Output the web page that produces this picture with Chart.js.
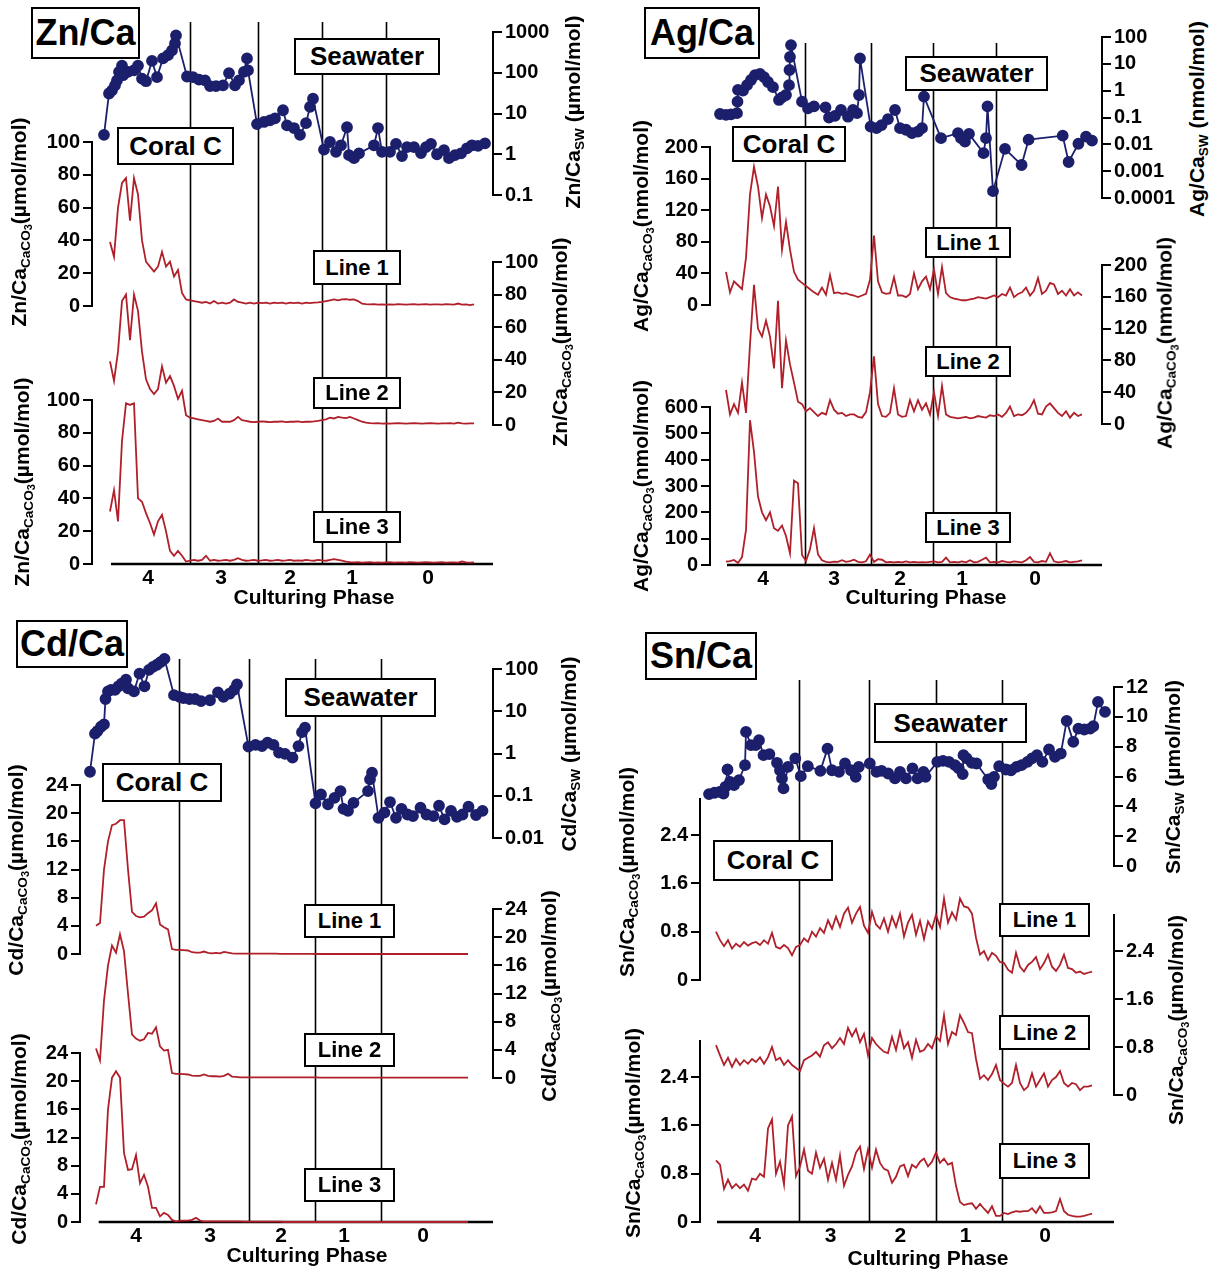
<!DOCTYPE html>
<html>
<head>
<meta charset="utf-8">
<script src="https://cdn.jsdelivr.net/npm/chart.js@4.4.1/dist/chart.umd.min.js"></script>
<style>
  body { margin: 0; background: #fff; width: 1213px; height: 1274px; position: relative; overflow: hidden;
         font-family: 'Liberation Sans', Arial, sans-serif; font-weight: bold; color: #000; }
  canvas { position: absolute; }
  .box { position: absolute; border: 2px solid #000; background: #fff; box-sizing: border-box;
         display: flex; align-items: center; justify-content: center; white-space: nowrap; }
  .vt { position: absolute; white-space: nowrap; font-size: 21px; line-height: 1;
        transform: translate(-50%, -50%) rotate(-90deg); }
  .vt sub { font-size: 0.65em; vertical-align: -0.3em; }
  .vt sub sub { font-size: 0.8em; vertical-align: -0.25em; }
  .ht { position: absolute; white-space: nowrap; font-size: 21px; transform: translate(-50%, -50%); }
</style>
</head>
<body>
<script>
// ---- shared ----
const phaseLabels = ['4', '3', '2', '1', '0'];
const lineStep = 4;   // spacing of the coral laser-line samples (distance units)

// ---- Zn/Ca ----
const znSwX = [7,12,15,18,20,22,25,26,31,37,41,45,49,55,60,66,71,75,78,79,90,96,102,108,113,119,126,132,138,142,147,150,151,160,167,173,178,186,190,197,203,209,213,216,227,233,239,244,250,252,257,262,277,281,285,293,299,305,310,317,324,329,334,340,347,352,358,364,370,375,381,388];
const znSw = [3.0,31,37,49,65,105,150,87,105,115,150,72,62,195,78,225,270,355,525,830,81,78,68,65,47,47,49,98,49,65,105,225,115,5.5,6.2,6.8,7.6,12,5.1,4.4,3.0,5.8,14.5,23,1.3,2.0,1.15,1.66,4.6,0.95,0.8,1.05,1.66,4.4,1.15,1.15,1.8,0.9,1.5,1.5,1.07,1.5,1.8,1.0,1.26,0.8,0.95,1.05,1.4,1.66,1.6,1.85];
const znLine1 = [39,30,60,75,78,52,78,68,40,27,24,21,24,33,24,27,18,22,8,4,3.5,3,2.5,2,2.5,1.5,3,1.5,2,1.5,2,4,2.5,2,1.5,2,1.5,2,1.8,2,1.5,2,1.8,2,1.5,2,1.8,2,1.5,2,1.8,2,2.2,2.5,3,3.5,4,3.5,4,4.2,3.8,4,3,1.5,1.2,1,1.2,0.8,1,0.8,1,0.8,1.2,1,0.8,1,1.2,0.8,1,1.2,0.8,1,1,0.8,1.2,1,0.8,1.5,0.8,1,0.5,1];
const znLine2 = [39,27,45,76,80,52,80,70,45,28,22,19,22,36,26,30,24,16,21,6,4.5,4,3.5,3,2.5,2,2.5,4,2,2,2,3,5,3,2.5,2,1.8,2,2.2,2,1.8,2,2,2.2,1.8,2,2,2.2,1.8,2,2,2.2,2.5,3,3.5,4.5,4,5,4.5,4.2,5,4,3,2,1.5,1.2,1,1.2,0.8,1,0.8,1,1.2,1,0.8,1,1.2,1,0.8,1,1.2,1,0.8,1,1,1.2,0.8,1.5,1,0.8,1,1];
const znLine3 = [32,45,26,75,98,97,98,40,38,31,25,18,26,30,20,8,5,8,5,1.5,2,2.5,2,2.5,5,2,2.5,2,2.2,2.5,2,2.5,3.5,2.5,2,2.2,2.5,2,2.2,2.5,2,2.2,2.5,2,2.2,2.5,2,2.2,2,2.5,2.2,2,2.5,2.2,2,2.5,3,2.5,2,1.5,1.2,1,1.2,0.8,1,1.2,0.8,1,0.8,1,1.2,0.8,1,1,0.8,1.2,1,0.8,1,1.2,1,0.8,1,1.2,0.8,1,1,0.8,1.5,1,0.8,1];
const znLineStart = 13;
const znPhaseEdges = [93, 161, 225, 289];
const znPhaseTicks = [51, 124, 193, 255, 331];
const znSwTicks = [0.1, 1, 10, 100, 1000];
const znCoralTicks = [0, 20, 40, 60, 80, 100];

// ---- Ag/Ca ----
const agSwX = [10,16,21,27,27.5,28,33,37,41,45,50,54,58,63,69,72,76,79,79.5,80,81,92,98,104,115.5,119,125,131,138,143,147,149,150,160.6,166.5,171.6,178,185,190,196,202,208,212,214,231,248,251,255,259,273.5,276,277.5,283,295,311.6,318.6,352.7,358.6,368.4,376,382];
const agSw = [0.135,0.126,0.13,0.145,0.39,1.07,1.0,1.6,2.5,3.8,4.2,3.2,2.1,1.35,0.45,0.56,0.69,1.6,5.9,18,50,0.39,0.22,0.26,0.24,0.10,0.115,0.19,0.107,0.19,0.145,0.69,16,0.046,0.04,0.052,0.087,0.19,0.04,0.035,0.026,0.03,0.04,0.6,0.017,0.026,0.017,0.0126,0.0245,0.0047,0.017,0.26,0.00018,0.0068,0.0017,0.015,0.021,0.0022,0.0105,0.0195,0.0138];
const agLine1 = [42,16,30,25,20,60,140,175,150,110,140,125,100,150,70,105,70,42,32,28,24,20,16,13,22,13,38,15,16,14,15,13,12,10,12,14,32,88,30,16,14,15,35,12,12,10,14,40,20,30,36,20,45,14,48,15,10,8,7,6,6,7,8,10,9,8,10,12,10,14,12,22,10,14,16,22,12,18,34,14,18,28,26,14,18,12,20,12,16,12];
const agLine2 = [43,12,25,14,52,14,100,175,120,110,130,110,70,155,45,105,75,52,28,25,16,20,15,10,14,12,30,18,13,14,10,12,12,9,8,15,40,85,25,10,9,14,45,12,9,10,30,16,30,18,26,12,40,10,48,12,9,8,7,8,9,7,8,10,9,8,11,10,12,9,14,22,10,12,11,14,20,30,13,12,22,26,20,14,10,16,8,14,10,12];
const agLine3 = [13,15,19,8,30,133,550,430,260,200,170,200,140,130,150,110,44,320,310,38,15,60,140,40,18,12,10,13,12,18,12,15,20,12,10,14,40,12,22,20,10,12,10,12,10,14,10,12,10,11,10,12,14,10,12,28,10,12,10,14,10,18,10,12,20,28,10,12,10,15,12,10,14,12,10,18,30,12,10,15,12,44,14,10,12,15,10,12,14,18];
const agLineStart = 16;
const agPhaseEdges = [95, 161, 223, 286];
const agPhaseTicks = [53, 124, 190, 252, 325];
const agSwTicks = [0.0001, 0.001, 0.01, 0.1, 1, 10, 100];
const agCoralTicks12 = [0, 40, 80, 120, 160, 200];
const agCoralTicks3 = [0, 100, 200, 300, 400, 500, 600];

// ---- Cd/Ca ----
const cdSwX = [10,15,17.5,21,24,25.5,28,31,35,38.5,41.5,46,48,54,59.5,64.5,69,73,77,80.5,84.5,94,99.5,103.5,109.5,115,121,130,138,143.5,149.5,154,157,168.5,175.5,182,187.5,193.5,199,205,212.5,218.5,222,225,235.5,241,248,254.5,260.5,263.5,268,273.5,288,290,292,298.5,304.5,310,316,321.5,327.5,333,340.5,346.5,353.5,359,364.5,371,377,382.5,388.5,396,402.5];
const cdSw = [0.37,2.95,3.4,4.3,4.9,19.5,29.5,32,32,39,45,56,35,29.5,78,39,95,112,126,145,174,24,22,20.4,19.5,19.5,17.4,18.2,28,22,26,32,43,1.45,1.6,1.5,1.8,1.6,1.05,0.98,0.8,1.5,3.2,4.1,0.066,0.107,0.063,0.089,0.129,0.049,0.044,0.068,0.129,0.245,0.35,0.030,0.04,0.071,0.030,0.049,0.036,0.033,0.052,0.036,0.033,0.058,0.0275,0.044,0.0316,0.036,0.055,0.035,0.044];
const cdLine1 = [4,4.4,12,16,18.3,18.5,19,19,12,6,5.4,5.2,5.3,5.8,6.2,7.2,4.2,3.8,3.5,0.7,0.6,0.6,0.55,0.5,0.25,0.2,0.2,0.35,0.15,0.1,0.15,0.1,0.3,0.2,0.1,0.05,0.05,0.05,0.05,0.05,0.05,0.05,0.05,0.05,0.05,0.05,0.03,0.03,0.03,0.03,0.03,0.03,0.03,0.03,0.03,0,0,0,0,0,0,0,0,0,0,0,0,0,0,0,0,0,0,0,0,0,0,0,0,0,0,0,0,0,0,0,0,0,0,0,0,0,0,0];
const cdLine2 = [4.2,2.5,11,16,18.8,17.8,20.4,18,12,6.2,5.6,5.3,5.5,6.4,6.3,7.2,4.5,3.9,4,0.7,0.6,0.6,0.55,0.5,0.35,0.3,0.3,0.5,0.3,0.25,0.25,0.2,0.3,0.6,0.2,0.15,0.1,0.1,0.1,0.1,0.1,0.1,0.1,0.1,0.1,0.1,0.08,0.08,0.08,0.08,0.08,0.08,0.08,0.08,0.08,0.08,0.05,0.05,0.05,0.05,0.05,0.05,0.05,0.05,0.05,0.05,0.05,0.05,0.05,0.05,0.05,0.05,0.05,0.05,0.05,0.05,0.05,0.05,0.05,0.05,0.05,0.05,0.05,0.05,0.05,0.05,0.05,0.05,0.05,0.05,0.05,0.05,0.05,0.05];
const cdLine3 = [2.5,5,5,16,20.5,21.4,20.5,9.8,7.4,7.5,9.5,5.5,6.7,5,2,2,0.8,1.3,1,0.3,0.1,0.2,0.2,0.2,0.3,0.6,0.2,0.1,0.1,0.1,0.1,0.1,0.1,0.1,0.1,0.1,0.1,0.05,0.05,0.05,0.05,0.05,0.05,0.05,0.05,0.05,0.05,0,0,0,0,0,0,0,0,0,0,0,0,0,0,0,0,0,0,0,0,0,0,0,0,0,0,0,0,0,0,0,0,0,0,0,0,0,0,0,0,0,0,0,0,0,0,0];
const cdLineStart = 16;
const cdPhaseEdges = [98.6, 168.6, 234.7, 300.5];
const cdPhaseTicks = [56, 130, 201, 264, 343];
const cdSwTicks = [0.01, 0.1, 1, 10, 100];
const cdCoralTicks = [0, 4, 8, 12, 16, 20, 24];

// ---- Sn/Ca ----
const snSwX = [9,14.5,19.6,23.5,25.5,27.5,30,34,39,45,46,51,55.7,59,63.5,69.4,77,80,82,83.5,88,95.3,100.8,107.8,120.4,127.5,132,139,145,151,155.7,158.8,169.8,176.5,181.6,188.2,195,200,206,212.5,217.6,223.5,225.5,237.3,243,249,255,258.8,262.7,263.5,266.7,271.8,276.5,288.2,291.4,294,299.2,305.9,311,316.5,321.6,327.5,332,337,342.4,349,355,360.8,366.7,373.3,378.4,384.3,390.2,393.3,398,405];
const snSw = [4.82,4.91,4.97,4.86,5.31,6.47,5.64,5.42,5.76,6.76,8.99,8.10,8.10,8.43,7.43,7.50,6.92,6.42,5.87,5.20,6.65,7.21,6.02,6.69,6.38,7.87,6.42,6.31,6.87,6.42,5.98,6.65,6.87,6.31,6.38,6.20,5.87,6.31,5.87,6.54,5.87,6.31,5.98,6.98,7.05,6.98,6.76,6.54,6.16,7.43,7.21,6.92,6.87,5.80,5.49,5.98,6.69,6.47,6.42,6.65,6.76,6.98,7.21,7.43,6.98,7.81,7.32,7.54,9.73,8.32,9.21,9.15,9.21,9.37,11.0,10.33];
const snLine1 = [0.80,0.66,0.56,0.66,0.52,0.60,0.55,0.63,0.57,0.61,0.63,0.58,0.66,0.60,0.78,0.55,0.52,0.58,0.53,0.41,0.55,0.58,0.69,0.63,0.80,0.72,0.86,0.78,0.99,0.85,1.05,0.88,1.10,1.20,0.95,1.10,1.21,0.90,0.78,1.13,0.92,0.85,1.02,0.80,1.05,0.88,1.10,0.72,0.95,1.08,0.75,0.98,0.68,0.97,0.85,1.08,0.88,1.35,0.95,1.12,1.00,1.35,1.22,1.20,1.10,0.70,0.42,0.48,0.33,0.45,0.40,0.30,0.28,0.17,0.12,0.45,0.22,0.14,0.25,0.30,0.38,0.18,0.28,0.42,0.22,0.15,0.25,0.42,0.20,0.18,0.12,0.14,0.10,0.12,0.14];
const snLine2 = [0.83,0.66,0.50,0.62,0.47,0.60,0.50,0.58,0.52,0.60,0.55,0.63,0.52,0.63,0.80,0.58,0.62,0.50,0.58,0.50,0.45,0.40,0.58,0.62,0.66,0.72,0.64,0.83,0.88,0.78,0.85,0.95,0.85,1.12,0.98,1.10,0.88,1.02,0.66,0.95,0.85,0.78,0.72,0.70,0.97,0.75,1.05,0.78,0.88,0.62,0.92,0.72,0.75,0.85,0.78,0.98,0.90,1.33,0.85,1.05,1.00,1.33,1.20,1.05,1.03,0.60,0.27,0.33,0.25,0.35,0.50,0.25,0.19,0.14,0.20,0.50,0.20,0.08,0.14,0.36,0.14,0.25,0.36,0.14,0.25,0.30,0.40,0.20,0.14,0.20,0.18,0.08,0.14,0.14,0.16];
const snLine3 = [1.02,0.95,0.55,0.70,0.56,0.63,0.56,0.62,0.52,0.72,0.70,0.80,0.75,1.55,1.70,0.80,1.00,0.62,1.60,1.75,0.76,0.92,1.20,0.85,0.80,1.15,0.90,1.05,0.70,0.98,0.70,1.10,0.60,0.78,0.92,1.15,1.25,0.88,1.20,0.90,1.20,0.98,0.88,0.85,0.65,0.75,0.92,0.95,0.76,0.95,0.90,1.00,1.05,0.92,1.00,1.15,0.98,1.05,0.95,0.98,0.60,0.33,0.28,0.30,0.31,0.22,0.30,0.22,0.15,0.26,0.10,0.10,0.15,0.13,0.16,0.18,0.17,0.18,0.18,0.23,0.15,0.26,0.15,0.15,0.16,0.18,0.38,0.18,0.12,0.10,0.09,0.09,0.10,0.12,0.14];
const snLineStart = 16;
const snPhaseEdges = [99, 169, 235.7, 302];
const snPhaseTicks = [55, 130.6, 200.4, 265.5, 345];
const snSwTicks = [0, 2, 4, 6, 8, 10, 12];
const snCoralTicks = [0, 0.8, 1.6, 2.4];

// ---- drawing ----
const NAVY = '#1c1f6c';
const RED = '#b0202a';
const WL = 60, WR = 80, HX = 40, PT = 20;
const tickFont = { family: 'Liberation Sans, Arial, sans-serif', size: 20, weight: 'bold' };

const pts = (xs, ys) => xs.map((x, i) => ({ x: x, y: ys[i] }));
const seq = (vals, start) => vals.map((v, i) => ({ x: start + i * lineStep, y: v }));

const phasePlugin = {
  id: 'phase',
  beforeDatasetsDraw(chart, args, opts) {
    const { ctx, chartArea, scales } = chart;
    const x = scales.x;
    ctx.save();
    ctx.strokeStyle = '#000';
    ctx.lineWidth = 1.6;
    opts.edges.forEach(v => {
      const px = Math.round(x.getPixelForValue(v)) + 0.5;
      ctx.beginPath();
      ctx.moveTo(px, chartArea.top + opts.topGap);
      ctx.lineTo(px, chartArea.bottom);
      ctx.stroke();
    });
    ctx.lineWidth = 2.5;
    ctx.beginPath();
    ctx.moveTo(x.getPixelForValue(opts.axisStart), chartArea.bottom);
    ctx.lineTo(chartArea.right, chartArea.bottom);
    ctx.stroke();
    ctx.restore();
  }
};

function yAxis(pos, weight, a) {
  if (!a) return { type: 'linear', position: pos, stack: pos, stackWeight: weight, display: false, min: 0, max: 1 };
  return {
    type: a.log ? 'logarithmic' : 'linear', position: pos, stack: pos, stackWeight: weight,
    min: a.min, max: a.max,
    afterBuildTicks: s => { s.ticks = a.ticks.map(v => ({ value: v })); },
    afterFit: s => { s.width = pos === 'left' ? WL : WR; },
    grid: { drawOnChartArea: false, drawTicks: true, tickLength: 9, color: '#000', lineWidth: 2 },
    border: { display: true, color: '#000', width: 2 },
    ticks: { color: '#000', font: tickFont, padding: 3, autoSkip: false, callback: v => String(v) }
  };
}

function panel(p) {
  const c = document.createElement('canvas');
  c.width = WL + (p.axR - p.axL) + WR;
  c.height = PT + (p.axB - p.top) + HX;
  c.style.left = (p.axL - WL) + 'px';
  c.style.top = (p.top - PT) + 'px';
  document.body.appendChild(c);

  const scales = {
    x: {
      type: 'linear', min: p.xMin, max: p.xMax,
      grid: { display: false, drawTicks: false }, border: { display: false },
      afterBuildTicks: s => { s.ticks = p.phaseTicks.map(v => ({ value: v })); },
      afterFit: s => { s.height = HX; },
      ticks: { color: '#000', font: { ...tickFont, size: 21 }, padding: 2, autoSkip: false, maxRotation: 0,
               callback: (v, i) => phaseLabels[i] }
    }
  };
  // left boxes are laid out in reverse order, so add them bottom-up
  for (let i = p.left.length - 1; i >= 0; i--) scales['L' + i] = yAxis('left', p.left[i][0], p.left[i][1]);
  p.right.forEach((b, i) => { scales['R' + i] = yAxis('right', b[0], b[1]); });

  const red = (data, axis) => ({ data, yAxisID: axis, borderColor: RED, borderWidth: 1.8, pointRadius: 0, clip: false });
  new Chart(c, {
    type: 'line',
    data: {
      datasets: [
        red(seq(p.lines[0], p.lineStart), p.lineAxes[0]),
        red(seq(p.lines[1], p.lineStart), p.lineAxes[1]),
        red(seq(p.lines[2], p.lineStart), p.lineAxes[2]),
        { data: pts(p.swX, p.sw), yAxisID: p.swAxis, borderColor: NAVY, backgroundColor: NAVY,
          pointBackgroundColor: NAVY, pointBorderColor: NAVY, pointRadius: 5, borderWidth: 1.8, clip: false }
      ]
    },
    options: {
      responsive: false, animation: false, devicePixelRatio: 1,
      layout: { padding: { top: PT, left: 0, right: 0, bottom: 0 } },
      plugins: { legend: { display: false }, tooltip: { enabled: false },
                 phase: { edges: p.phaseEdges, topGap: p.topGap, axisStart: p.axisStart } },
      scales: scales
    },
    plugins: [phasePlugin]
  });
}

function box(x1, y1, x2, y2, text, size) {
  const d = document.createElement('div');
  d.className = 'box';
  Object.assign(d.style, { left: x1 + 'px', top: y1 + 'px', width: (x2 - x1) + 'px', height: (y2 - y1) + 'px', fontSize: size + 'px' });
  d.textContent = text;
  document.body.appendChild(d);
}
function vtitle(cx, cy, html) {
  const d = document.createElement('div');
  d.className = 'vt';
  d.style.left = cx + 'px'; d.style.top = cy + 'px';
  d.innerHTML = html;
  document.body.appendChild(d);
}
function htitle(cx, cy, text) {
  const d = document.createElement('div');
  d.className = 'ht';
  d.style.left = cx + 'px'; d.style.top = cy + 'px';
  d.textContent = text;
  document.body.appendChild(d);
}
const caco3 = (el, unit) => el + '/Ca<sub>CaCO<sub>3</sub></sub>(' + unit + '/mol)';
const sw = (el, unit) => el + '/Ca<sub>SW</sub> (' + unit + '/mol)';

// Zn/Ca panel
panel({
  axL: 92, axR: 493, top: 22, axB: 564, xMin: -5, xMax: 396, topGap: 0, axisStart: 14,
  phaseEdges: znPhaseEdges, phaseTicks: znPhaseTicks,
  swX: znSwX, sw: znSw, swAxis: 'R1', lines: [znLine1, znLine2, znLine3], lineStart: znLineStart, lineAxes: ['L1', 'R3', 'L3'],
  left: [[120, null], [164, { min: 0, max: 100, ticks: znCoralTicks }], [94, null], [164, { min: 0, max: 100, ticks: znCoralTicks }]],
  right: [[10, null], [163, { log: true, min: 0.1, max: 1000, ticks: znSwTicks }], [67, null], [163, { min: 0, max: 100, ticks: znCoralTicks }], [139, null]]
});
// Ag/Ca panel
panel({
  axL: 710, axR: 1102, top: 37, axB: 565, xMin: 0, xMax: 392, topGap: 6, axisStart: 17,
  phaseEdges: agPhaseEdges, phaseTicks: agPhaseTicks,
  swX: agSwX, sw: agSw, swAxis: 'R0', lines: [agLine1, agLine2, agLine3], lineStart: agLineStart, lineAxes: ['L1', 'R2', 'L3'],
  left: [[110, null], [158, { min: 0, max: 200, ticks: agCoralTicks12 }], [102, null], [158, { min: 0, max: 600, ticks: agCoralTicks3 }]],
  right: [[161, { log: true, min: 0.0001, max: 100, ticks: agSwTicks }], [67, null], [159, { min: 0, max: 200, ticks: agCoralTicks12 }], [141, null]]
});
// Cd/Ca panel
panel({
  axL: 80, axR: 493, top: 659, axB: 1222, xMin: 0, xMax: 413, topGap: 0, axisStart: 18.7,
  phaseEdges: cdPhaseEdges, phaseTicks: cdPhaseTicks,
  swX: cdSwX, sw: cdSw, swAxis: 'R1', lines: [cdLine1, cdLine2, cdLine3], lineStart: cdLineStart, lineAxes: ['L1', 'R3', 'L3'],
  left: [[126, null], [169, { min: 0, max: 24, ticks: cdCoralTicks }], [99, null], [169, { min: 0, max: 24, ticks: cdCoralTicks }]],
  right: [[10, null], [169, { log: true, min: 0.01, max: 100, ticks: cdSwTicks }], [71, null], [169, { min: 0, max: 24, ticks: cdCoralTicks }], [144, null]]
});
// Sn/Ca panel
panel({
  axL: 700, axR: 1114, top: 680, axB: 1222, xMin: 0, xMax: 414, topGap: 0, axisStart: 17,
  phaseEdges: snPhaseEdges, phaseTicks: snPhaseTicks,
  swX: snSwX, sw: snSw, swAxis: 'R1', lines: [snLine1, snLine2, snLine3], lineStart: snLineStart, lineAxes: ['L1', 'R3', 'L3'],
  left: [[119, null], [181, { min: 0, max: 3, ticks: snCoralTicks }], [61, null], [181, { min: 0, max: 3, ticks: snCoralTicks }]],
  right: [[7, null], [179, { min: 0, max: 12, ticks: snSwTicks }], [49, null], [180, { min: 0, max: 3, ticks: snCoralTicks }], [127, null]]
});

// labels
box(31, 7, 140, 59, 'Zn/Ca', 36); box(294, 38, 440, 75, 'Seawater', 26); box(117, 127, 234, 165, 'Coral C', 26);
box(313, 250, 401, 285, 'Line 1', 22); box(313, 377, 401, 409, 'Line 2', 22); box(313, 511, 401, 543, 'Line 3', 22);
box(644, 7, 760, 59, 'Ag/Ca', 36); box(905, 56, 1048, 91, 'Seawater', 26); box(732, 126, 846, 162, 'Coral C', 26);
box(925, 227, 1011, 258, 'Line 1', 22); box(925, 346, 1011, 377, 'Line 2', 22); box(925, 512, 1011, 543, 'Line 3', 22);
box(16, 620, 128, 668, 'Cd/Ca', 36); box(285, 678, 436, 717, 'Seawater', 26); box(102, 763, 222, 802, 'Coral C', 26);
box(304, 904, 395, 938, 'Line 1', 22); box(304, 1033, 395, 1067, 'Line 2', 22); box(304, 1168, 395, 1202, 'Line 3', 22);
box(645, 632, 757, 680, 'Sn/Ca', 36); box(874, 703, 1027, 743, 'Seawater', 26); box(713, 840, 833, 881, 'Coral C', 26);
box(999, 903, 1090, 937, 'Line 1', 22); box(999, 1015, 1090, 1050, 'Line 2', 22); box(999, 1143, 1090, 1179, 'Line 3', 22);

vtitle(21, 222, caco3('Zn', 'µmol')); vtitle(24, 482, caco3('Zn', 'µmol'));
vtitle(574, 112, sw('Zn', 'µmol')); vtitle(562, 342, caco3('Zn', 'µmol'));
vtitle(643, 226, caco3('Ag', 'nmol')); vtitle(643, 486, caco3('Ag', 'nmol'));
vtitle(1198, 119, sw('Ag', 'nmol')); vtitle(1167, 343, caco3('Ag', 'nmol'));
vtitle(18, 870, caco3('Cd', 'µmol')); vtitle(21, 1139, caco3('Cd', 'µmol'));
vtitle(570, 754, sw('Cd', 'µmol')); vtitle(551, 996, caco3('Cd', 'µmol'));
vtitle(629, 872, caco3('Sn', 'µmol')); vtitle(635, 1133, caco3('Sn', 'µmol'));
vtitle(1174, 777, sw('Sn', 'µmol')); vtitle(1178, 1020, caco3('Sn', 'µmol'));

htitle(314, 597, 'Culturing Phase'); htitle(926, 597, 'Culturing Phase');
htitle(307, 1255, 'Culturing Phase'); htitle(928, 1258, 'Culturing Phase');
</script>
</body>
</html>
